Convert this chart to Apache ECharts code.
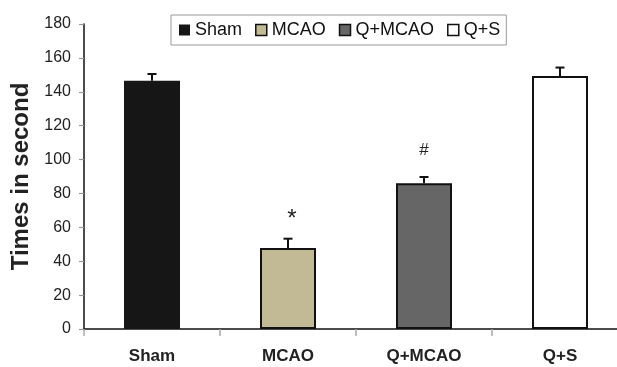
<!DOCTYPE html>
<html><head><meta charset="utf-8">
<script src="https://cdn.jsdelivr.net/npm/echarts@6/dist/echarts.min.js"></script>
<style>html,body{margin:0;padding:0;background:#fff;overflow:hidden}#c{width:629px;height:367px}</style>
</head><body><div id="c"></div>
<script>
const categories = ['Sham', 'MCAO', 'Q+MCAO', 'Q+S'];
const means = [146.5, 47.8, 86, 149.3];
const errors = [4, 5.5, 3.7, 5];
const annotations = ['', '*', '#', ''];
const annotationY = [null, 64.5, 105.4, null];
const colors = ['#161616', '#c2ba94', '#666666', '#ffffff'];
const yMin = 0, yMax = 180, yInterval = 20;

const FONT = 'Liberation Sans, Arial, sans-serif';
const chart = echarts.init(document.getElementById('c'), null, {renderer: 'canvas'});

const barSeries = categories.map((name, i) => ({
  name: name,
  type: 'bar',
  barWidth: 56,
  barGap: '-100%',
  data: categories.map((c, j) => (j === i ? means[j] : '-')),
  itemStyle: {
    color: colors[i],
    borderColor: '#111',
    borderWidth: i === 0 ? 0 : 2
  },
  emphasis: {disabled: true},
  z: 2
}));

const errData = categories.map((c, i) => [i, means[i], means[i] + errors[i]]);
const annData = [];
const annText = [];
annotations.forEach((t, i) => { if (t) { annData.push([i, annotationY[i]]); annText.push(t); } });

const option = {
  animation: false,
  backgroundColor: '#fff',
  textStyle: {fontFamily: FONT},
  grid: {left: 84, top: 24, height: 305, width: 544, containLabel: false},
  legend: {
    left: 171, top: 15,
    padding: [6, 6, 6, 8],
    itemGap: 13,
    itemWidth: 11, itemHeight: 11,
    borderColor: '#999', borderWidth: 1,
    icon: 'rect',
    textStyle: {fontSize: 18, color: '#111', fontFamily: FONT},
    data: categories.map((n, i) => ({name: n, itemStyle: {borderWidth: i === 0 ? 0 : 1.5}}))
  },
  xAxis: {
    type: 'category',
    data: categories,
    axisLine: {lineStyle: {color: '#111', width: 1.5}},
    axisTick: {show: true, length: 7, lineStyle: {color: '#aaa', width: 1.5}},
    axisLabel: {fontSize: 17, fontWeight: 'bold', color: '#222', margin: 19, fontFamily: FONT}
  },
  yAxis: {
    type: 'value',
    min: yMin, max: yMax, interval: yInterval,
    splitLine: {show: false},
    axisLine: {show: true, lineStyle: {color: '#111', width: 1.5}},
    axisTick: {show: true, length: 5, lineStyle: {color: '#999', width: 1.2}},
    axisLabel: {fontSize: 16, color: '#222', margin: 13, fontFamily: FONT},
    name: 'Times in second',
    nameLocation: 'middle',
    nameGap: 47,
    nameTextStyle: {fontSize: 24, fontWeight: 'bold', color: '#222', fontFamily: FONT}
  },
  series: barSeries.concat([
    {
      type: 'custom',
      name: 'err',
      data: errData,
      encode: {x: 0, y: [1, 2]},
      z: 3,
      renderItem: function (params, api) {
        const base = api.coord([api.value(0), api.value(1)]);
        const top = api.coord([api.value(0), api.value(2)]);
        const st = {stroke: '#111', lineWidth: 2};
        return {
          type: 'group',
          children: [
            {type: 'line', shape: {x1: base[0], y1: base[1], x2: top[0], y2: top[1]}, style: st},
            {type: 'line', shape: {x1: top[0] - 4.5, y1: top[1], x2: top[0] + 4.5, y2: top[1]}, style: st}
          ]
        };
      }
    },
    {
      type: 'custom',
      name: 'ann',
      data: annData,
      encode: {x: 0, y: 1},
      z: 4,
      renderItem: function (params, api) {
        const p = api.coord([api.value(0), api.value(1)]);
        const t = annText[params.dataIndex];
        return {
          type: 'text',
          x: p[0] + (t === '*' ? 4 : 0), y: p[1],
          style: {text: t, fontSize: t === '*' ? 24 : 17, fontFamily: FONT, fill: '#222', align: 'center', verticalAlign: 'middle'}
        };
      }
    }
  ])
};
chart.setOption(option);
</script>
</body></html>
